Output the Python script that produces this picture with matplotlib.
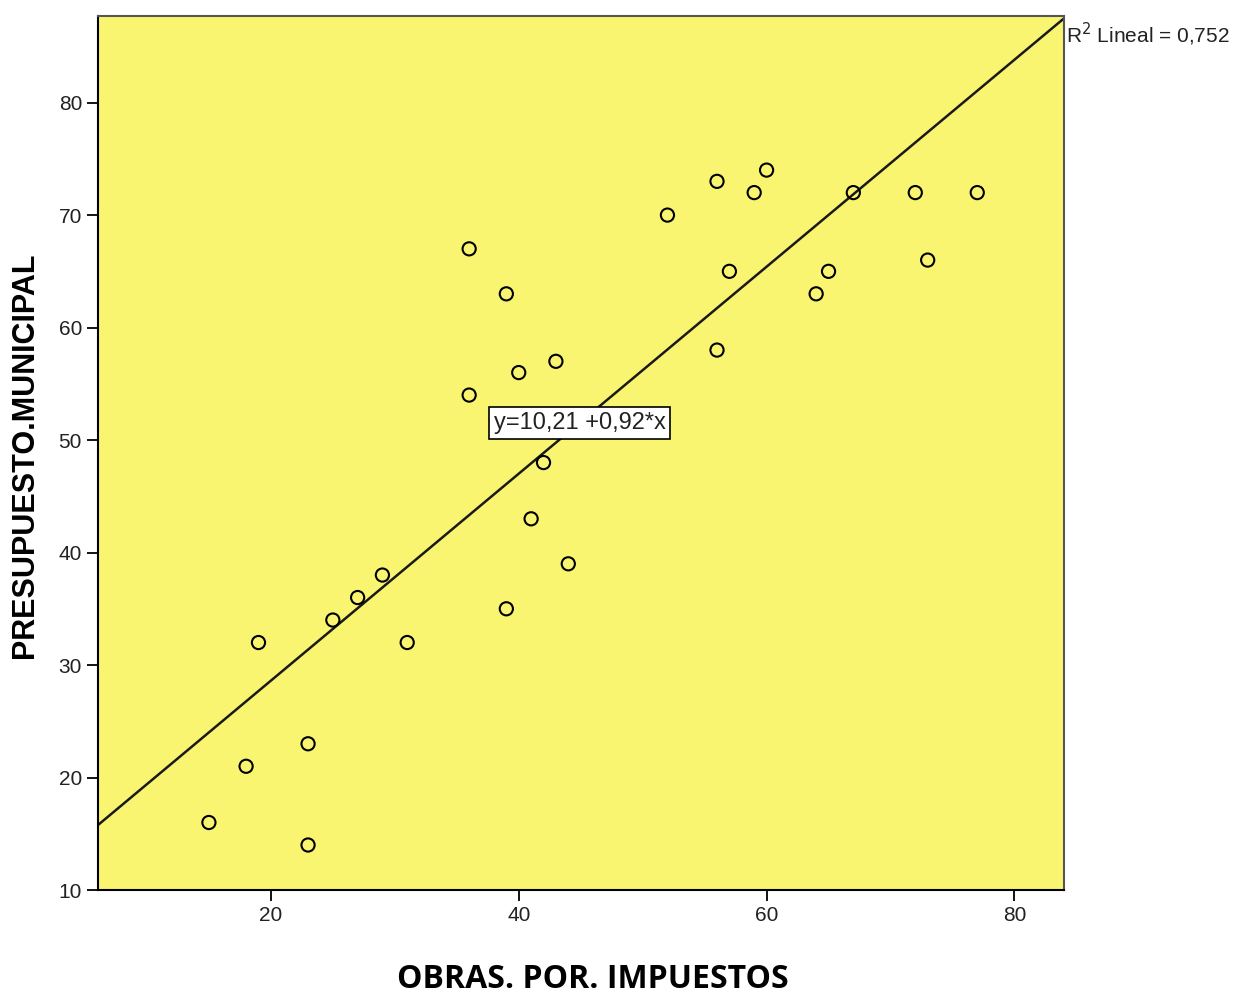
import matplotlib
matplotlib.use("Agg")
import matplotlib.pyplot as plt
import numpy as np

# scatter data
obras = [15, 18, 19, 23, 23, 25, 27, 29, 31, 36, 36, 39, 39, 40, 41, 42, 43, 44,
         52, 56, 56, 57, 59, 60, 64, 65, 67, 72, 73, 77]
presupuesto = [16, 21, 32, 23, 14, 34, 36, 38, 32, 67, 54, 63, 35, 56, 43, 48, 57, 39,
               70, 73, 58, 65, 72, 74, 63, 65, 72, 72, 66, 72]

intercept = 10.21
slope = 0.92
r2 = "0,752"

x_ticks = [20, 40, 60, 80]
y_ticks = [10, 20, 30, 40, 50, 60, 70, 80]
xlim = (6.05, 84.0)
ylim = (10.0, 87.7)

plt.rcParams["font.family"] = ["Liberation Sans", "DejaVu Sans"]

fig = plt.figure(figsize=(12.37, 9.99), dpi=100)
ax = fig.add_axes([98 / 1237, 109 / 999, 966 / 1237, 874 / 999])
ax.set_facecolor("#F9F571")

ax.scatter(obras, presupuesto, s=90, facecolors="none", edgecolors="black",
           linewidths=1.5, zorder=3)

xs = np.array(xlim)
ax.plot(xs, intercept + slope * xs, color="#1a1a1a", linewidth=1.8, zorder=2)

ax.set_xlim(*xlim)
ax.set_ylim(*ylim)
ax.set_xticks(x_ticks)
ax.set_yticks(y_ticks)
ax.tick_params(direction="out", length=8, width=1.3, labelsize=15,
               colors="black", labelcolor="#222222")
for side in ("left", "bottom"):
    ax.spines[side].set_linewidth(1.5)
    ax.spines[side].set_color("black")
for side in ("top", "right"):
    ax.spines[side].set_linewidth(1.5)
    ax.spines[side].set_color("#555555")

eq = f"y={intercept:.2f} +{slope:.2f}*x".replace(".", ",")
ax.text(44.9, 51.5, eq, fontsize=17, ha="center", va="center", color="#222222",
        bbox=dict(facecolor="white", edgecolor="black", linewidth=1.2,
                  boxstyle="square,pad=0.2"), zorder=4)

fig.text(1066 / 1237, 1 - 34 / 999, f"R$^2$ Lineal = {r2}", fontsize=15,
         ha="left", va="center", color="#222222")

fig.text(25 / 1237, 1 - 455 / 999, "PRESUPUESTO.MUNICIPAL", rotation=90,
         fontsize=22, fontweight="bold", ha="center", va="center")
fig.text(593 / 1237, 3 / 999, "OBRAS. POR. IMPUESTOS",
         family=["Open Sans", "DejaVu Sans"], fontsize=23, fontweight="bold",
         ha="center", va="bottom")

fig.savefig("out.png", dpi=100)
